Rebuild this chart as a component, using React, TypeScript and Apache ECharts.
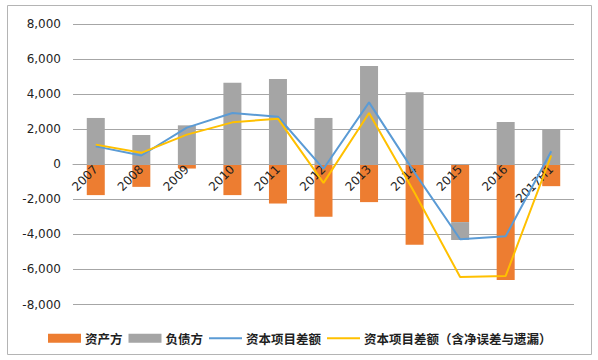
import React, { useEffect, useRef } from "react";
import * as echarts from "echarts";

const categories = ["2007", "2008", "2009", "2010", "2011", "2012", "2013", "2014", "2015", "2016", "2017H1"];
const assetSide = [-1760, -1290, -245, -1760, -2240, -2990, -2160, -4590, -3300, -6600, -1250];
const liabilitySide = [2640, 1670, 2220, 4650, 4860, 2640, 5610, 4100, -1020, 2410, 1970];
const capitalBalance = [1020, 500, 2090, 2920, 2710, -260, 3530, -480, -4280, -4110, 740];
const capitalBalanceWithErrors = [1120, 650, 1690, 2390, 2600, -1060, 2920, -1630, -6430, -6370, 500];
const seriesNames = ["资产方", "负债方", "资本项目差额", "资本项目差额（含净误差与遗漏）"];

const lineIcon = "path://M0,0 L34,0 L34,2 L0,2 Z";

export default function App() {
  const ref = useRef<HTMLDivElement>(null);
  useEffect(() => {
    document.body.style.margin = "0";
    if (!ref.current) return;
    const chart = echarts.init(ref.current, null, { renderer: "svg" });
    const gridColor = "#a6a6a6";
    const textColor = "#1f1f1f";
    const gridTop = 24;
    const gridBottom = 55.5;
    const plotHeight = 360 - gridTop - gridBottom;
    const yMin = -8000;
    const yMax = 8000;
    // move the category axis up to the value-0 position
    const zeroOffset = -plotHeight * ((0 - yMin) / (yMax - yMin));
    chart.setOption({
      animation: false,
      backgroundColor: "#ffffff",
      graphic: [
        {
          type: "rect",
          shape: { x: 7.5, y: 5.5, width: 584, height: 349 },
          style: { fill: "none", stroke: "#b4b4b4", lineWidth: 1 },
          silent: true,
        },
      ],
      grid: { left: 73, right: 24, top: gridTop, bottom: gridBottom, containLabel: false },
      legend: {
        left: 43,
        top: 327,
        itemGap: 6,
        itemWidth: 33,
        itemHeight: 9,
        textStyle: {
          fontFamily: "Noto Sans CJK SC",
          fontWeight: "bold",
          fontSize: 12.5,
          color: textColor,
          padding: [0, 0, 0, -1],
        },
        data: [
          { name: seriesNames[0], icon: "rect" },
          { name: seriesNames[1], icon: "rect" },
          { name: seriesNames[2], icon: lineIcon },
          { name: seriesNames[3], icon: lineIcon },
        ],
      },
      xAxis: {
        type: "category",
        data: categories,
        position: "bottom",
        offset: zeroOffset,
        z: 10,
        axisLine: { onZero: false, lineStyle: { color: gridColor, width: 1 } },
        axisTick: { show: false },
        axisLabel: {
          rotate: 45,
          margin: 3,
          fontFamily: "DejaVu Sans",
          fontSize: 12,
          color: textColor,
          interval: 0,
        },
      },
      yAxis: {
        type: "value",
        min: yMin,
        max: yMax,
        interval: 2000,
        axisLine: { show: false },
        axisTick: { show: false },
        splitLine: { lineStyle: { color: gridColor, width: 1 } },
        axisLabel: {
          margin: 12,
          fontFamily: "DejaVu Sans",
          fontSize: 12,
          color: textColor,
          formatter: (v: number) => v.toLocaleString("en-US"),
        },
      },
      series: [
        {
          name: seriesNames[0],
          type: "bar",
          stack: "total",
          barWidth: 18,
          data: assetSide,
          itemStyle: { color: "#ED7D31" },
        },
        {
          name: seriesNames[1],
          type: "bar",
          stack: "total",
          barWidth: 18,
          data: liabilitySide,
          itemStyle: { color: "#A5A5A5" },
        },
        {
          name: seriesNames[2],
          type: "line",
          symbol: "none",
          z: 12,
          data: capitalBalance,
          lineStyle: { color: "#5B9BD5", width: 2 },
          itemStyle: { color: "#5B9BD5" },
        },
        {
          name: seriesNames[3],
          type: "line",
          symbol: "none",
          z: 12,
          data: capitalBalanceWithErrors,
          lineStyle: { color: "#FFC000", width: 2 },
          itemStyle: { color: "#FFC000" },
        },
      ],
    });
    return () => chart.dispose();
  }, []);
  return <div ref={ref} style={{ width: 598, height: 360 }} />;
}
